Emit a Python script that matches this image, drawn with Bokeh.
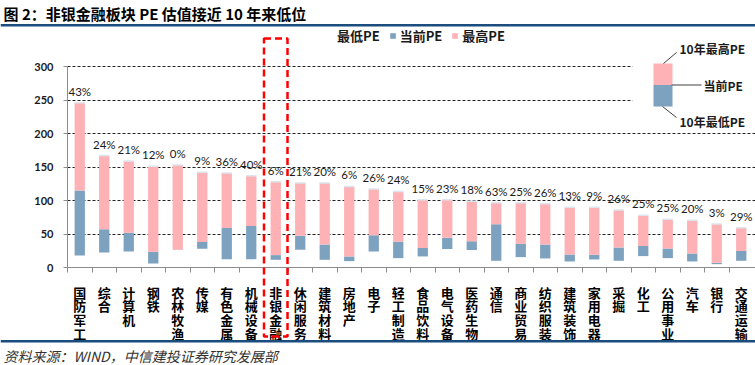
from bokeh.plotting import figure
from bokeh.models import (Range1d, FixedTicker, BoxAnnotation, Label, Arrow,
                          Legend, LegendItem, ColumnDataSource)
from bokeh.embed import file_html
from bokeh.resources import INLINE
from bokeh.core.properties import value

# ---------------- data ----------------
categories = ["国防军工", "综合", "计算机", "钢铁", "农林牧渔", "传媒", "有色金属",
              "机械设备", "非银金融", "休闲服务", "建筑材料", "房地产", "电子",
              "轻工制造", "食品饮料", "电气设备", "医药生物", "通信", "商业贸易",
              "纺织服装", "建筑装饰", "家用电器", "采掘", "化工", "公用事业",
              "汽车", "银行", "交通运输"]
min_pe = [18, 22.5, 24, 6, 26, 28, 12.5, 12.5, 11.5, 26.5, 11.5, 9.5, 24,
          14, 16.5, 27.5, 26, 10, 15.5, 13.5, 9, 12, 10, 17, 14, 9, 5, 10]
cur_pe = [115, 57, 52, 23.5, 26.5, 38, 59, 62, 18.5, 47.5, 34.5, 16.5, 48,
          38.5, 29, 44.5, 39, 64.5, 35.5, 34.5, 19.5, 19, 30, 32, 28.5, 21, 7, 24.5]
max_pe = [246, 167, 159, 151, 153, 142, 141, 137, 128, 126, 126, 121, 117,
          113.5, 101, 101, 99, 96.5, 96.5, 95, 90, 90, 86, 78, 72, 70.5, 65, 59.5]
pct_labels = ["43%", "24%", "21%", "12%", "0%", "9%", "36%", "40%", "6%", "21%",
              "20%", "6%", "26%", "24%", "15%", "23%", "18%", "63%", "25%", "26%",
              "13%", "9%", "26%", "25%", "25%", "20%", "3%", "29%"]
y_ticks = [0, 50, 100, 150, 200, 250, 300]

# ---------------- geometry ----------------
W, H = 755, 365
X0PX, Y0PX, Y300PX = 67, 267, 66      # canvas px of data x=0, y=0, y=300
CAT_PX = 24.5
PX_PER_Y = (Y0PX - Y300PX) / 300.0
x_start = -X0PX / CAT_PX
x_end = (W - X0PX) / CAT_PX
y_start = -(H - Y0PX) / PX_PER_Y
y_end = Y0PX / PX_PER_Y

def dx(sx):   # canvas x -> data x
    return (sx - X0PX) / CAT_PX

def dy(sy):   # canvas y -> data y
    return (Y0PX - sy) / PX_PER_Y

BLUE = "#7DA2BF"
PINK = "#FFB2B5"
NAVY = "#1B4C7E"
CJK = "Noto Sans CJK SC"
NUM = "Lato"

centers = [i + 0.5 for i in range(len(categories))]
bounds = [float(i) for i in range(len(categories))]

src = ColumnDataSource(dict(x=centers, lo=min_pe, cur=cur_pe, hi=max_pe,
                            pct=pct_labels, zero=[0] * len(categories)))

p = figure(width=W, height=H, output_backend="svg", toolbar_location=None,
           x_range=Range1d(x_start, x_end), y_range=Range1d(y_start, y_end),
           min_border=0)
p.outline_line_color = None
p.background_fill_color = "white"
p.border_fill_color = "white"

# grid
p.xgrid.visible = False
p.ygrid.ticker = FixedTicker(ticks=y_ticks)
p.ygrid.bounds = (0, 300)
p.ygrid.cross_bounds = (0, x_end)
p.ygrid.grid_line_color = "#222222"
p.ygrid.grid_line_dash = "3 2"
p.ygrid.grid_line_width = 1

# y axis
p.yaxis.fixed_location = 0
p.yaxis.bounds = (0, 300)
p.yaxis.ticker = FixedTicker(ticks=y_ticks)
p.yaxis.axis_line_color = "#8C8C8C"
p.yaxis.major_tick_line_color = "#8C8C8C"
p.yaxis.major_tick_out = 4
p.yaxis.major_tick_in = 0
p.yaxis.minor_tick_line_color = None
p.yaxis.major_label_standoff = 10
p.yaxis.major_label_text_font = NUM
p.yaxis.major_label_text_font_style = "bold"
p.yaxis.major_label_text_font_size = "11px"
p.yaxis.major_label_text_color = "#1a1a1a"

# x axis
p.xaxis.fixed_location = 0
p.xaxis.bounds = (0, x_end)
p.xaxis.ticker = FixedTicker(ticks=centers, minor_ticks=bounds)
p.xaxis.axis_line_color = "#8C8C8C"
p.xaxis.major_tick_line_color = None
p.xaxis.major_tick_out = 0
p.xaxis.major_tick_in = 0
p.xaxis.minor_tick_line_color = "#8C8C8C"
p.xaxis.minor_tick_out = 5
p.xaxis.minor_tick_in = 0
p.xaxis.major_label_standoff = 10
p.xaxis.major_label_overrides = {c: "\n".join(n) for c, n in zip(centers, categories)}
p.xaxis.major_label_text_font = CJK
p.xaxis.major_label_text_font_style = "bold"
p.xaxis.major_label_text_font_size = "13px"
p.xaxis.major_label_text_line_height = 0.72
p.xaxis.major_label_text_color = "black"

# bars: invisible base (min), current (blue), to max (pink)
bw = 0.42
r_base = p.vbar(x="x", bottom="zero", top="lo", width=bw, source=src,
                fill_alpha=0, line_alpha=0)
r_cur = p.vbar(x="x", bottom="lo", top="cur", width=bw, source=src,
               fill_color=BLUE, line_color=None)
r_max = p.vbar(x="x", bottom="cur", top="hi", width=bw, source=src,
               fill_color=PINK, line_color=None)
p.rect(x="x", y="hi", width=bw, height=1.5, height_units="screen", source=src,
       fill_color="#DCE6F0", line_color=None)

p.text(x="x", y="hi", text="pct", source=src, text_align="center",
       text_baseline="bottom", y_offset=-5, text_font=value(NUM),
       text_font_size="11.5px", text_color="#1a1a1a")

# legend (location = bottom-left offset from frame bottom-left, px)
legend = Legend(items=[LegendItem(label="最低PE", renderers=[r_base]),
                       LegendItem(label="当前PE", renderers=[r_cur]),
                       LegendItem(label="最高PE", renderers=[r_max])],
                orientation="horizontal", location=(326, H - 45),
                glyph_width=7, glyph_height=7, label_standoff=4, spacing=9,
                padding=0, margin=0, border_line_color=None,
                background_fill_alpha=0,
                label_text_font=CJK, label_text_font_style="bold",
                label_text_font_size="13px", label_text_color="#1a1a1a")
p.add_layout(legend, "center")

# title and rules
p.add_layout(Label(x=dx(3), y=dy(12.5), text="图 2：非银金融板块 PE 估值接近 10 年来低位",
                   text_baseline="middle", text_font=CJK, text_font_style="bold",
                   text_font_size="15px", text_color="black"))
p.add_layout(BoxAnnotation(left=dx(0), right=dx(755), top=dy(23.5), bottom=dy(26),
                           fill_color=NAVY, fill_alpha=1, line_color=None))
p.add_layout(BoxAnnotation(left=dx(0), right=dx(755), top=dy(339.5), bottom=dy(342),
                           fill_color=NAVY, fill_alpha=1, line_color=None))
p.add_layout(Label(x=dx(3), y=dy(355.5), text="资料来源：WIND，中信建投证券研究发展部",
                   text_baseline="middle", text_font=CJK, text_font_style="italic",
                   text_font_size="14px", text_color="#333333"))

# red dashed highlight around 非银金融
p.add_layout(BoxAnnotation(left=dx(263.5), right=dx(287), top=dy(38), bottom=dy(336),
                           fill_alpha=0, line_color="#FF0000", line_alpha=1,
                           line_width=2.5, line_dash="7 4"))

# inset explanatory legend
p.add_layout(BoxAnnotation(left=dx(632), right=dx(755), top=dy(58), bottom=dy(128),
                           fill_color="white", fill_alpha=1, line_color=None))
p.add_layout(BoxAnnotation(left=dx(653), right=dx(672), top=dy(63), bottom=dy(84.5),
                           fill_color=PINK, fill_alpha=1, line_color=None))
p.add_layout(BoxAnnotation(left=dx(653), right=dx(672), top=dy(84.5), bottom=dy(106),
                           fill_color=BLUE, fill_alpha=1, line_color=None))
for (x0, y0, x1, y1) in [(663, 63, 676, 52), (671, 84.5, 701, 84.5), (662, 106, 676, 117)]:
    p.add_layout(Arrow(end=None, x_start=dx(x0), y_start=dy(y0), x_end=dx(x1), y_end=dy(y1),
                       line_color="#404040", line_width=1))
for (tx, ty, t) in [(679, 48, "10年最高PE"), (703, 84.5, "当前PE"), (679, 121, "10年最低PE")]:
    p.add_layout(Label(x=dx(tx), y=dy(ty), text=t, text_baseline="middle",
                       text_font=CJK, text_font_style="bold", text_font_size="12px",
                       text_color="#1a1a1a"))

open("out.html", "w").write(file_html(p, INLINE))
